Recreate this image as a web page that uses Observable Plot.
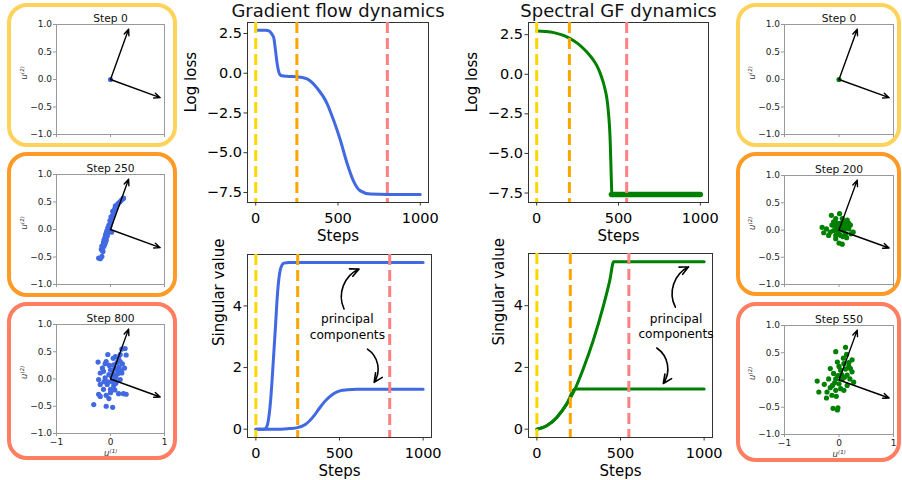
<!DOCTYPE html>
<html><head><meta charset="utf-8">
<script src="https://cdn.jsdelivr.net/npm/d3@7"></script>
<script src="https://cdn.jsdelivr.net/npm/@observablehq/plot@0.6"></script>
<style>
body{margin:0;background:#fff;}
#root{position:relative;width:902px;height:480px;overflow:hidden;background:#fff;font-family:"DejaVu Sans";}
.box{position:absolute;box-sizing:border-box;border-width:4px;border-style:solid;border-radius:20px;}
.panel{position:absolute;}
.panel svg{overflow:visible;display:block;}
</style></head><body><div id="root"></div>
<script>
// ---------------- data ----------------
const titleGF = "Gradient flow dynamics";
const titleSP = "Spectral GF dynamics";
const stepTicks = [0, 500, 1000];
const lossTicks = [2.5, 0, -2.5, -5, -7.5];
const svTicks = [0, 2, 4];
const scatterTicks = [-1, -0.5, 0, 0.5, 1];
const scatterXTicks = [-1, 0, 1];

// Gradient flow: log loss
const gfLossStep = [0, 60, 80, 95, 109, 120, 130, 140, 150, 170, 200, 250, 312, 373, 433, 474, 514, 555, 595, 636, 697, 800, 1000];
const gfLossVal  = [2.7, 2.7, 2.66, 2.5, 2.25, 1.45, 0.61, 0.09, -0.12, -0.18, -0.2, -0.22, -0.36, -0.94, -1.89, -2.98, -4.2, -5.66, -6.8, -7.4, -7.6, -7.62, -7.62];
// Gradient flow: singular values
const gfSv1Step = [0, 50, 60, 75, 88, 103, 118, 128, 138, 150, 168, 200, 1000];
const gfSv1Val  = [0, 0, 0.03, 0.3, 0.92, 2.1, 3.4, 4.3, 4.9, 5.25, 5.39, 5.41, 5.41];
const gfSv2Step = [0, 150, 200, 248, 298, 347, 380, 407, 440, 467, 507, 547, 600, 1000];
const gfSv2Val  = [0, 0, 0.02, 0.05, 0.16, 0.43, 0.68, 0.87, 1.05, 1.16, 1.25, 1.28, 1.3, 1.3];

// Spectral GF: log loss
const spLossStep = [0, 50, 105, 150, 196, 250, 287, 320, 348, 370, 389, 405, 419, 430, 439, 445, 449, 453, 456, 459];
const spLossVal  = [2.73, 2.7, 2.63, 2.5, 2.3, 1.95, 1.61, 1.25, 0.88, 0.5, 0.04, -0.45, -1.0, -1.6, -2.47, -3.3, -4.15, -5.5, -6.6, -7.55];
const spLossFlatStep = [457, 1000];
const spLossFlatVal  = [-7.6, -7.6];
// Spectral GF: singular values
const spSv1Step = [0, 59, 119, 178, 228, 277, 337, 396, 436, 459, 1000];
const spSv1Val  = [0, 0.11, 0.38, 0.81, 1.3, 1.95, 2.87, 3.96, 4.82, 5.42, 5.42];
const spSv2Step = [0, 59, 119, 178, 228, 1000];
const spSv2Val  = [0, 0.11, 0.38, 0.81, 1.3, 1.3];

// snapshot steps (dashed markers)
const gfMarkers = [0, 250, 800];
const spMarkers = [0, 200, 550];

// annotation "principal components": text position and arrows [x1,y1,x2,y2]
const noteText = "principal\ncomponents";
const gfNote = [547, 3.36];
const gfNoteArrows = [[527, 3.9, 617, 5.2], [667, 2.6, 707, 1.52]];
const spNote = [832, 3.36];
const spNoteArrows = [[828, 3.95, 907, 5.26], [717, 2.63, 756, 1.48]];

// scatter snapshots (u1, u2)
const eigVectors = [[0.335, 0.915], [0.92, -0.33]];
const gfStep0 = [[0, 0]];
const gfStep250 = [[-0.22,-0.52],[-0.19,-0.53],[-0.16,-0.49],[-0.17,-0.36],[-0.15,-0.38],[-0.14,-0.33],[-0.16,-0.30],[-0.13,-0.28],[-0.12,-0.30],[-0.13,-0.24],[-0.11,-0.22],[-0.10,-0.25],[-0.12,-0.19],[-0.09,-0.18],[-0.10,-0.14],[-0.08,-0.15],[-0.07,-0.11],[-0.09,-0.09],[-0.06,-0.08],[-0.05,-0.05],[-0.07,-0.03],[-0.04,-0.02],[-0.03,0.01],[-0.05,0.03],[-0.02,0.04],[-0.01,0.07],[-0.03,0.08],[0.00,0.11],[0.01,0.14],[-0.01,0.16],[0.02,0.18],[0.03,0.21],[0.01,0.23],[0.04,0.25],[0.05,0.28],[0.06,0.31],[0.04,0.33],[0.07,0.35],[0.08,0.38],[0.10,0.40],[0.09,0.43],[0.12,0.44],[0.14,0.47],[0.17,0.50],[0.20,0.53],[0.23,0.56],[0.24,0.57],[0.02,-0.05],[-0.08,-0.2],[-0.14,-0.4],[-0.11,-0.27],[-0.06,-0.12]];
const gfStep800 = [[-0.05,0.45],[-0.23,0.31],[-0.08,0.32],[0.09,0.41],[0.15,0.38],[0.27,0.56],[0.21,0.55],[0.29,0.44],[0.18,0.32],[0.26,0.2],[0.06,0.26],[-0.19,0.11],[-0.13,0.14],[0,0.17],[0.12,0.17],[0.21,0.11],[-0.22,-0.01],[-0.1,0.02],[0.09,-0.01],[0.18,-0.01],[-0.19,-0.1],[-0.06,-0.1],[0.06,-0.12],[-0.13,-0.19],[0,-0.19],[-0.22,-0.28],[-0.03,-0.36],[0.15,-0.27],[0.29,-0.28],[-0.31,-0.47],[-0.08,-0.5],[0.04,-0.52],[-0.19,-0.32],[0.24,-0.27],[0.02,0.05],[0.05,0.1],[-0.03,0.08],[0.1,0.05],[0.14,0.1],[0.16,0.22],[0.08,0.2],[-0.02,0.25],[0.12,0.3],[-0.05,-0.05],[0.03,-0.05],[-0.12,-0.05],[0,-0.25],[-0.08,-0.3],[0.08,-0.2],[0.2,0.15],[0.22,0.28],[-0.15,0.2],[0.1,-0.08],[-0.1,0.28],[0.18,0.45],[0.05,0.38]];
const spStep0 = [[0, 0]];
const spStep200 = [[-0.31,0.05],[-0.28,-0.05],[-0.23,0.02],[-0.14,0.27],[0.01,0.3],[0,-0.24],[0.06,-0.26],[0.26,-0.04],[0.15,0.18],[0.1,0.15],[-0.1,0.15],[-0.06,0.21],[-0.13,0.09],[-0.16,-0.04],[-0.06,-0.1],[0.03,-0.1],[0.12,-0.07],[0.18,0.02],[0.21,0.09],[-0.03,0.05],[0.04,0.07],[0,-0.01],[0.09,-0.01],[-0.1,-0.01],[-0.03,0.12],[0.06,0.21],[0.15,0.09],[-0.06,-0.16],[-0.19,-0.1],[0.14,-0.14],[0.22,-0.07],[0.05,0],[-0.05,0],[0.02,0.12],[0.08,0.1],[-0.08,0.08],[0.12,0.04],[-0.02,-0.06],[0.07,-0.12],[0.18,0.12]];
const spStep550 = [[0.12,0.6],[-0.06,0.52],[0.14,0.47],[-0.4,-0.02],[-0.37,-0.22],[-0.23,-0.33],[-0.11,-0.52],[-0.03,-0.55],[-0.02,-0.51],[0.24,0.37],[0.27,-0.04],[0.15,-0.1],[0.21,0.21],[0.09,0.3],[-0.03,0.33],[-0.16,0.21],[-0.1,0.12],[-0.19,0.02],[-0.27,-0.08],[-0.16,-0.14],[-0.13,-0.28],[-0.06,-0.19],[0.03,-0.16],[0.09,-0.19],[0,-0.07],[0.06,0.02],[0.15,0.09],[0.24,0.15],[0.03,0.18],[-0.06,0.02],[-0.22,-0.22],[0.05,0.1],[0.1,0.05],[-0.02,0.08],[0.18,0.25],[0.12,0.2],[-0.08,-0.05],[0,0.25],[0.08,0.4],[0.2,0.02],[-0.12,-0.1],[-0.05,-0.3],[0.18,0.32]];

// ---------------- styles ----------------
const BLUE = "#4169e1", GREEN = "#008000";
const markerColors = ["#ffd700", "#ffa500", "#ff8080"];
const boxColors = ["#fdd35b", "#ff9a26", "#ff7d60"];
const FONT = "DejaVu Sans";
const fmt1 = d3.format(".1f"), fmtInt = d3.format("d");
const root = document.getElementById("root");

function place(el, left, top) {
  const d = document.createElement("div");
  d.className = "panel"; d.style.left = left + "px"; d.style.top = top + "px";
  d.appendChild(el); root.appendChild(d);
}
function box(left, top, right, bottom, color) {
  const d = document.createElement("div");
  d.className = "box";
  Object.assign(d.style, {left: left + "px", top: top + "px", width: (right - left) + "px", height: (bottom - top) + "px", borderColor: color});
  root.appendChild(d);
}
const zip = (xs, ys) => xs.map((x, i) => ({x, y: ys[i]}));

// ---------------- boxes ----------------
box(7, 3, 177, 147, boxColors[0]);
box(7, 152, 177, 297, boxColors[1]);
box(7, 302, 177, 460, boxColors[2]);
box(736, 3, 901, 147, boxColors[0]);
box(736, 152, 901, 296, boxColors[1]);
box(736, 302, 901, 462, boxColors[2]);

// ---------------- scatter panels ----------------
function scatter({pts, color, title, showX, w, h, m}) {
  return Plot.plot({
    width: w, height: h, marginLeft: m[0], marginRight: m[1], marginTop: m[2], marginBottom: m[3],
    x: {domain: [-1, 1]}, y: {domain: [-1, 1]},
    style: {fontFamily: FONT, background: "transparent", overflow: "visible", color: "#000"},
    marks: [
      Plot.frame({stroke: "#999"}),
      Plot.axisY(scatterTicks, {tickSize: 3, tickPadding: 1.5, fontSize: 9, stroke: "#999", fill: "#222", tickFormat: fmt1, label: null}),
      Plot.axisX(scatterXTicks, {tickSize: 3, tickPadding: 2, fontSize: 9, stroke: "#999", fill: "#222", tickFormat: showX ? fmtInt : () => "", label: null}),
      Plot.dot(pts, {x: d => d[0], y: d => d[1], r: 2.6, fill: color}),
      Plot.arrow(eigVectors, {x1: () => 0, y1: () => 0, x2: d => d[0], y2: d => d[1], stroke: "#000", strokeWidth: 1.4, headLength: 7, headAngle: 45}),
      Plot.text([title], {text: d => d, frameAnchor: "top", lineAnchor: "bottom", dy: -2.5, fontSize: 10.7, fill: "#111"}),
      Plot.text(["u⁽²⁾"], {text: d => d, frameAnchor: "left", rotate: -90, dx: -30, lineAnchor: "bottom", fontSize: 8.5, fontStyle: "italic", fill: "#333"}),
      showX ? Plot.text(["u⁽¹⁾"], {text: d => d, frameAnchor: "bottom", dy: 22, lineAnchor: "bottom", fontSize: 8.5, fontStyle: "italic", fill: "#333"}) : null
    ]
  });
}
place(scatter({pts: gfStep0, color: BLUE, title: "Step 0", showX: false, w: 180, h: 150, m: [56, 16, 24, 16]}), 0, 0);
place(scatter({pts: gfStep250, color: BLUE, title: "Step 250", showX: false, w: 180, h: 150, m: [56, 16, 24, 16]}), 0, 150);
place(scatter({pts: gfStep800, color: BLUE, title: "Step 800", showX: true, w: 180, h: 180, m: [56, 16, 24, 47]}), 0, 300);
place(scatter({pts: spStep0, color: GREEN, title: "Step 0", showX: false, w: 182, h: 150, m: [64, 9, 24, 16]}), 720, 0);
place(scatter({pts: spStep200, color: GREEN, title: "Step 200", showX: false, w: 182, h: 150, m: [64, 9, 25, 16]}), 720, 150);
place(scatter({pts: spStep550, color: GREEN, title: "Step 550", showX: true, w: 182, h: 180, m: [64, 9, 25, 46]}), 720, 300);

// ---------------- main panels ----------------
function mainPlot({m, w, h, ydom, yticks, yfmt, ylabel, ylabelDx, title, lines, markers, note, noteArrows}) {
  const marks = [
    Plot.frame({stroke: "#333"}),
    Plot.axisY(yticks, {tickSize: 3.5, tickPadding: 2, fontSize: 14.5, stroke: "#333", fill: "#000", tickFormat: yfmt, label: null}),
    Plot.axisX(stepTicks, {tickSize: 3.5, tickPadding: 6.5, fontSize: 14.5, stroke: "#333", fill: "#000", tickFormat: fmtInt, label: null})
  ];
  for (const L of lines) marks.push(Plot.line(L.data, {x: "x", y: "y", stroke: L.color, strokeWidth: L.width, curve: "monotone-x"}));
  markers.forEach((s, i) => marks.push(Plot.ruleX([s], {x: d => d, stroke: markerColors[i], strokeWidth: 3, strokeDasharray: "11,5"})));
  if (note) {
    marks.push(Plot.text([note], {x: d => d[0], y: d => d[1], text: () => noteText, fontSize: 12.2, lineHeight: 1.3, lineAnchor: "middle", fill: "#000"}));
    marks.push(Plot.arrow(noteArrows, {x1: d => d[0], y1: d => d[1], x2: d => d[2], y2: d => d[3], bend: 45, stroke: "#000", strokeWidth: 1.6, headLength: 9, headAngle: 50}));
  }
  marks.push(Plot.text(["Steps"], {text: d => d, frameAnchor: "bottom", dy: 38.5, lineAnchor: "bottom", fontSize: 15, fill: "#000"}));
  marks.push(Plot.text([ylabel], {text: d => d, frameAnchor: "left", rotate: -90, dx: ylabelDx, lineAnchor: "bottom", fontSize: 15, fill: "#000"}));
  if (title) marks.push(Plot.text([title], {text: d => d, frameAnchor: "top", lineAnchor: "bottom", dy: -6, fontSize: 18, fill: "#111"}));
  return Plot.plot({
    width: w, height: h, marginLeft: m[0], marginRight: m[1], marginTop: m[2], marginBottom: m[3],
    x: {domain: [-50, 1050]}, y: {domain: ydom},
    style: {fontFamily: FONT, background: "transparent", overflow: "visible", color: "#000"},
    marks
  });
}

place(mainPlot({m: [67, 12, 22, 38], w: 260, h: 240, ydom: [-8.13, 3.19], yticks: lossTicks, yfmt: fmt1, ylabel: "Log loss", ylabelDx: -52, title: titleGF,
  lines: [{data: zip(gfLossStep, gfLossVal), color: BLUE, width: 3}], markers: gfMarkers}), 180, 0);
place(mainPlot({m: [67, 9, 14, 43], w: 260, h: 240, ydom: [-0.27, 5.67], yticks: svTicks, yfmt: fmtInt, ylabel: "Singular value", ylabelDx: -24,
  lines: [{data: zip(gfSv1Step, gfSv1Val), color: BLUE, width: 3}, {data: zip(gfSv2Step, gfSv2Val), color: BLUE, width: 3}],
  markers: gfMarkers, note: gfNote, noteArrows: gfNoteArrows}), 180, 240);
place(mainPlot({m: [68, 12, 22, 38], w: 260, h: 240, ydom: [-8.1, 3.27], yticks: lossTicks, yfmt: fmt1, ylabel: "Log loss", ylabelDx: -52, title: titleSP,
  lines: [{data: zip(spLossStep, spLossVal), color: GREEN, width: 3}, {data: zip(spLossFlatStep, spLossFlatVal), color: GREEN, width: 5.5}], markers: spMarkers}), 460, 0);
place(mainPlot({m: [68, 8, 13, 43], w: 260, h: 240, ydom: [-0.27, 5.69], yticks: svTicks, yfmt: fmtInt, ylabel: "Singular value", ylabelDx: -25,
  lines: [{data: zip(spSv1Step, spSv1Val), color: GREEN, width: 3}, {data: zip(spSv2Step, spSv2Val), color: GREEN, width: 3}],
  markers: spMarkers, note: spNote, noteArrows: spNoteArrows}), 460, 240);
</script></body></html>
